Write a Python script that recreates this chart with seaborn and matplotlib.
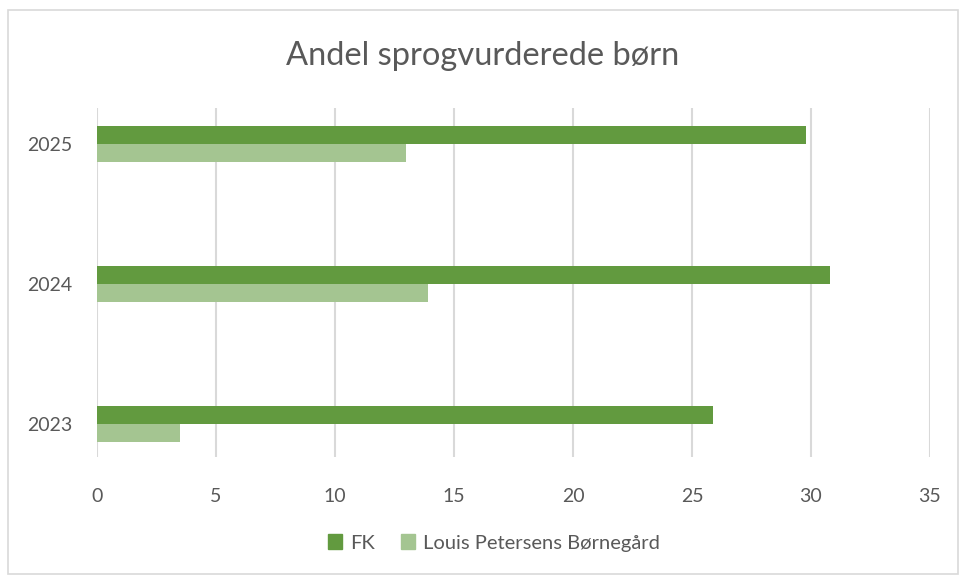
import pandas as pd
import matplotlib.pyplot as plt
import matplotlib.patches as mpatches
import seaborn as sns

YEARS = ["2025", "2024", "2023"]
FK = [29.8, 30.8, 25.9]
LOUIS = [13.0, 13.9, 3.5]
SERIES = ["FK", "Louis Petersens Børnegård"]
COLORS = ["#629A3F", "#A4C591"]
X_TICKS = [0, 5, 10, 15, 20, 25, 30, 35]

TEXT = "#595959"
GRID = "#D9D9D9"

df = pd.DataFrame({
    "year": YEARS * 2,
    "value": FK + LOUIS,
    "series": [SERIES[0]] * 3 + [SERIES[1]] * 3,
})

sns.set_style("white")
plt.rcParams["font.family"] = ["Lato", "DejaVu Sans"]

fig = plt.figure(figsize=(9.66, 5.75), dpi=100)
ax = fig.add_axes([0.1004, 0.2052, 0.8623, 0.607])

sns.barplot(
    data=df, y="year", x="value", hue="series",
    order=YEARS, hue_order=SERIES, palette=COLORS,
    orient="h", width=0.257, gap=0, saturation=1,
    ax=ax, legend=False, zorder=3, edgecolor="none",
)

ax.set_xlim(0, 35)
ax.set_ylim(2.236, -0.257)
ax.set_xticks(X_TICKS)
ax.set_xticklabels([str(t) for t in X_TICKS])
ax.grid(axis="x", color=GRID, lw=1.5, zorder=0)
ax.grid(axis="y", visible=False)
for s in ax.spines.values():
    s.set_visible(False)
ax.tick_params(axis="both", length=0, colors=TEXT, labelsize=14)
ax.tick_params(axis="x", pad=22)
ax.tick_params(axis="y", pad=18)
ax.set_xlabel("")
ax.set_ylabel("")

fig.text(0.5, 0.902, "Andel sprogvurderede børn", ha="center", va="center",
         fontsize=23.5, color=TEXT)

handles = [mpatches.Patch(color=c, label=s) for c, s in zip(COLORS, SERIES)]
fig.legend(handles=handles, loc="center", bbox_to_anchor=(494 / 966, 1 - 543 / 575),
           ncol=2, frameon=False, fontsize=14.5, labelcolor=TEXT,
           handlelength=0.7, handleheight=0.7, handletextpad=0.4, columnspacing=1.3)

fig.patches.append(mpatches.Rectangle((8 / 966, 0.002), 950 / 966, 1 - 10 / 575 - 0.002,
                                      transform=fig.transFigure, fill=False,
                                      edgecolor=GRID, lw=1.2))

fig.savefig("out.png", dpi=100, facecolor="white")
